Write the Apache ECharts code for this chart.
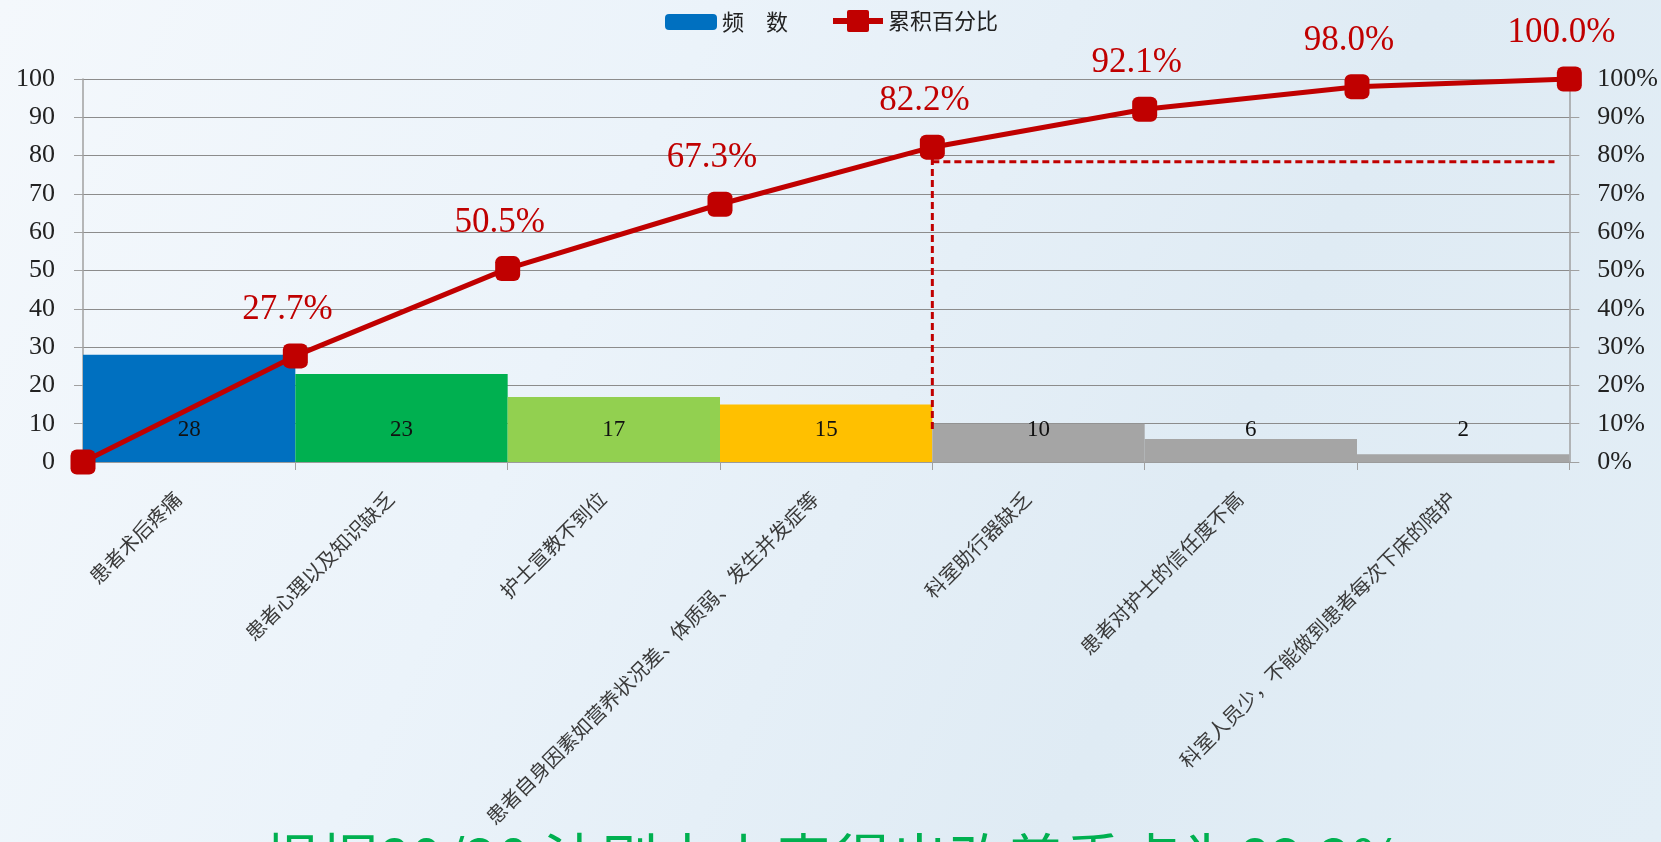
<!DOCTYPE html>
<html>
<head>
<meta charset="utf-8">
<title>Pareto</title>
<script src="https://cdn.jsdelivr.net/npm/echarts@6/dist/echarts.min.js"></script>
<style>
html, body { margin: 0; padding: 0; }
body {
    width: 1661px; height: 842px; overflow: hidden;
    background: linear-gradient(115deg, #f4f8fc 0%, #ebf3fa 35%, #dfebf4 70%, #e3eef6 100%);
}
#paretoChart { width: 1661px; height: 842px; }
</style>
</head>
<body>
<div id="paretoChart"></div>
<script>
// 原因分类
var categories = ['患者术后疼痛', '患者心理以及知识缺乏', '护士宣教不到位',
    '患者自身因素如营养状况差、体质弱、发生并发症等', '科室助行器缺乏',
    '患者对护士的信任度不高', '科室人员少，不能做到患者每次下床的陪护'];
// 频数
var freq = [28, 23, 17, 15, 10, 6, 2];
var barColors = ['#0070c0', '#00b050', '#92d050', '#ffc000', '#a5a5a5', '#a5a5a5', '#a5a5a5'];
// 累积百分比 (点落在柱子的分界处)
var cumPct = [0, 27.7, 50.5, 67.3, 82.2, 92.1, 98.0, 100.0];
// 80/20 辅助虚线
var guideV = [[4, 8.6], [4, 82.2]];
var guideH = [[4, 78.4], [6.93, 78.4]];
var conclusion = '根据80/20 法则由上表得出改善重点为82.2%';

var numFont = '"Liberation Serif", "DejaVu Serif", serif';
var cjkFont = '"Noto Sans CJK SC", sans-serif';
var lineIcon = 'path://M0,8H14V2Q14,0 16,0H34Q36,0 36,2V8H50V14H36V20Q36,22 34,22H16Q14,22 14,20V14H0Z';

var option = {
    animation: false,
    legend: [
        {
            data: ['频　数'],
            left: 660,
            top: 6,
            itemWidth: 52,
            itemHeight: 16,
            textStyle: { fontFamily: cjkFont, fontSize: 22, color: '#222' }
        },
        {
            data: [{ name: '累积百分比', icon: lineIcon }],
            left: 828,
            top: 5,
            itemWidth: 50,
            itemHeight: 22,
            textStyle: { fontFamily: cjkFont, fontSize: 22, color: '#222' }
        }
    ],
    grid: { left: 83, right: 88, top: 79, bottom: 380, containLabel: false },
    xAxis: [
        {
            type: 'category',
            data: categories,
            axisLine: { show: true, lineStyle: { color: '#a0a0a0', width: 1.5 } },
            axisTick: { show: true, length: 8, lineStyle: { color: '#a0a0a0' } },
            axisLabel: {
                interval: 0, rotate: 45, margin: 22,
                padding: [0, 16, 0, 0],
                fontFamily: cjkFont, fontSize: 20, color: '#3a3a3a'
            }
        },
        {
            type: 'value',
            min: 0, max: 7,
            show: false
        }
    ],
    yAxis: [
        {
            type: 'value',
            min: 0, max: 100, interval: 10,
            axisLine: { show: true, lineStyle: { color: '#a0a0a0', width: 1.5 } },
            axisTick: { show: true, length: 9, lineStyle: { color: '#a0a0a0' } },
            axisLabel: { margin: 28, fontFamily: numFont, fontSize: 26, color: '#222' },
            splitLine: { show: true, lineStyle: { color: '#8c8c8c', width: 1.2 } }
        },
        {
            type: 'value',
            min: 0, max: 100, interval: 10,
            position: 'right',
            axisLine: { show: true, lineStyle: { color: '#a0a0a0', width: 1.5 } },
            axisTick: { show: true, length: 10, lineStyle: { color: '#a0a0a0' } },
            axisLabel: { margin: 28, formatter: '{value}%', fontFamily: numFont, fontSize: 26, color: '#222' },
            splitLine: { show: false }
        }
    ],
    series: [
        {
            name: '频　数',
            type: 'bar',
            xAxisIndex: 0,
            yAxisIndex: 0,
            barCategoryGap: '0%',
            itemStyle: { color: '#0070c0' },
            data: freq.map(function (v, i) {
                return { value: v, itemStyle: { color: barColors[i] } };
            }),
            label: {
                show: true,
                position: 'insideBottom',
                distance: 21,
                fontFamily: numFont,
                fontSize: 23,
                color: '#111'
            }
        },
        {
            name: 'guideV',
            type: 'line',
            xAxisIndex: 1,
            yAxisIndex: 1,
            symbol: 'none',
            data: guideV,
            lineStyle: { color: '#c00000', width: 3, type: [7, 4] },
            silent: true
        },
        {
            name: 'guideH',
            type: 'line',
            xAxisIndex: 1,
            yAxisIndex: 1,
            symbol: 'none',
            data: guideH,
            lineStyle: { color: '#c00000', width: 3, type: [7, 4] },
            silent: true
        },
        {
            name: '累积百分比',
            type: 'line',
            xAxisIndex: 1,
            yAxisIndex: 1,
            clip: false,
            data: cumPct.map(function (v, i) { return [i, v]; }),
            symbol: 'roundRect',
            symbolSize: 25,
            itemStyle: { color: '#c00000' },
            lineStyle: { color: '#c00000', width: 5 },
            label: {
                show: true,
                position: 'top',
                distance: 16,
                offset: [-8, 0],
                fontFamily: numFont,
                fontSize: 35,
                color: '#c00000',
                formatter: function (p) {
                    return p.value[1] === 0 ? '' : p.value[1].toFixed(1) + '%';
                }
            }
        }
    ],
    graphic: [
        {
            type: 'text',
            left: 262,
            top: 831,
            style: {
                text: conclusion,
                fontFamily: cjkFont,
                fontSize: 58,
                fill: '#00b050'
            }
        }
    ]
};

var paretoChart = echarts.init(document.getElementById('paretoChart'));
paretoChart.setOption(option);
</script>
</body>
</html>
